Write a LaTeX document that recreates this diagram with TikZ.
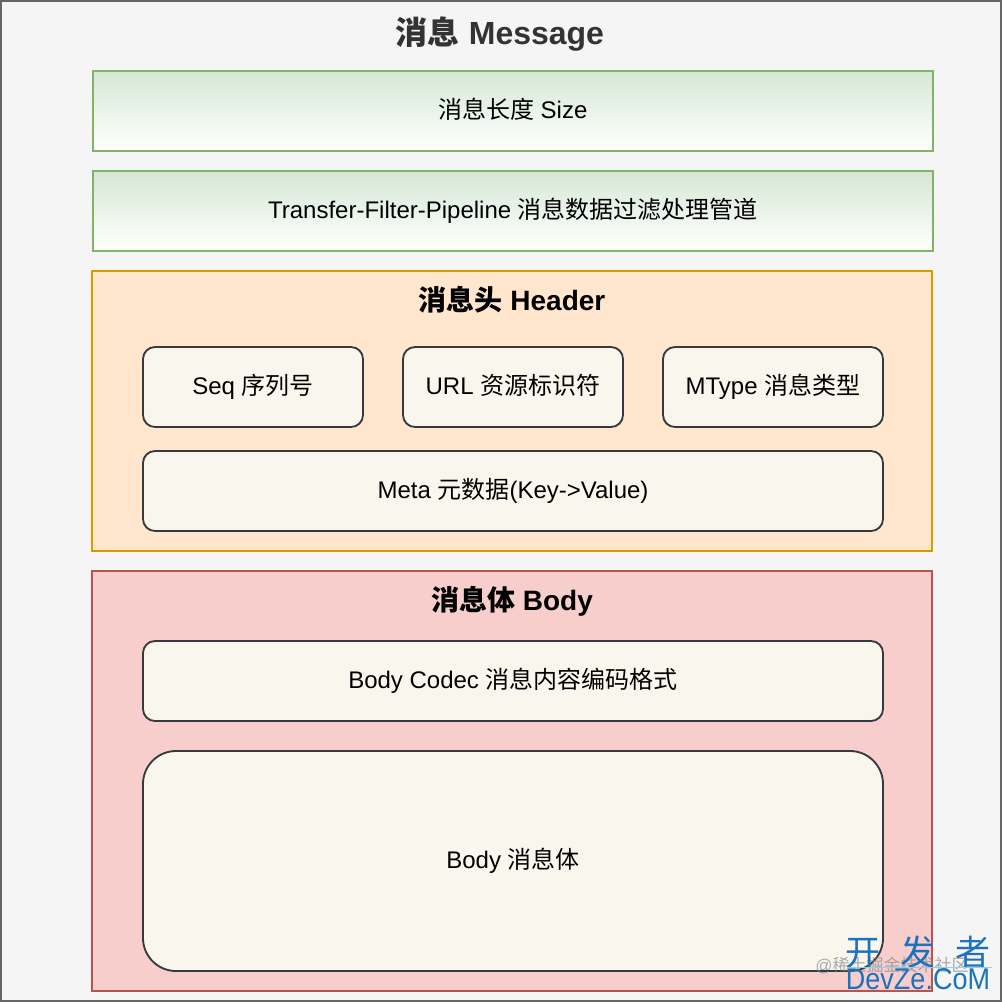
\documentclass[tikz,border=0pt]{standalone}
\usepackage{fontspec}
\setmainfont{Liberation Sans}
\newfontfamily\cjk{Noto Sans CJK SC}
\definecolor{outerfill}{HTML}{F5F5F5}
\definecolor{outerline}{HTML}{666666}
\definecolor{titlecol}{HTML}{333333}
\definecolor{greenfill}{HTML}{D5E8D4}
\definecolor{greenline}{HTML}{82B366}
\definecolor{orangefill}{HTML}{FFE6CC}
\definecolor{orangeline}{HTML}{D79B00}
\definecolor{redfill}{HTML}{F8CECC}
\definecolor{redline}{HTML}{B85450}
\definecolor{creamfill}{HTML}{F9F7ED}
\definecolor{creamline}{HTML}{36393D}
\definecolor{wmblue}{HTML}{1B72BE}
\definecolor{wmline}{HTML}{8CD0EE}
\definecolor{wmgray}{HTML}{8A8A8A}
\newcommand{\bx}[1]{\fontsize{#1}{#1}\selectfont}
\tikzset{
  x=1pt,y=-1pt,
  panel/.style={draw,line width=1.85pt,rectangle,inner sep=0pt,outer sep=0pt,text=black},
  greenbox/.style={panel,draw=greenline,top color=greenfill,bottom color=white,minimum width=840pt,minimum height=80pt,font=\bx{24},text height=18pt,text depth=4pt},
  headerbox/.style={panel,draw=orangeline,fill=orangefill,minimum width=840pt,minimum height=280pt},
  bodybox/.style={panel,draw=redline,fill=redfill,minimum width=840pt,minimum height=420pt},
  inner/.style={panel,draw=creamline,fill=creamfill,rounded corners=12pt,minimum height=80pt,font=\bx{24},text height=18pt,text depth=4pt},
  heading/.style={inner sep=0pt,text=black,font=\bx{28}\bfseries,text height=22pt,text depth=4pt},
}
\begin{document}
\begin{tikzpicture}
\useasboundingbox (0,0) rectangle (1002,1002);
\node[panel,line width=2pt,draw=outerline,fill=outerfill,minimum width=1000pt,minimum height=1000pt] (outer) at (501,501) {};
\node[inner sep=0pt,text=titlecol,font=\bx{32}\bfseries] (title) at (500,34) {{\cjk 消息} Message};
\node[greenbox] (size) at (512.7,111) {{\cjk 消息长度} Size};
\node[greenbox] (pipe) at (513,211) {Transfer-Filter-Pipeline {\cjk 消息数据过滤处理管道}};
\node[headerbox] (header) at (512,411) {};
\node[heading] (headertitle) at (512,301) {{\cjk 消息头} Header};
\node[inner,minimum width=220pt] (seq) at (253,387) {Seq {\cjk 序列号}};
\node[inner,minimum width=220pt] (url) at (513,387) {URL {\cjk 资源标识符}};
\node[inner,minimum width=220pt] (mtype) at (773,387) {MType {\cjk 消息类型}};
\node[inner,minimum width=740pt] (meta) at (513,491) {Meta {\cjk 元数据}(Key->Value)};
\node[bodybox] (body) at (512,781) {};
\node[heading] (bodytitle) at (512,601) {{\cjk 消息体} Body};
\node[inner,minimum width=740pt] (codec) at (513,681) {Body Codec {\cjk 消息内容编码格式}};
\node[inner,minimum width=740pt,minimum height=220pt,rounded corners=33pt] (msgbody) at (513,861) {Body {\cjk 消息体}};
% watermark
\node[inner sep=0pt,text=wmgray,opacity=.7,font=\bx{17}] (wmgrayt) at (892,965) {@{\cjk 稀土掘金技术社区}};
\node[inner sep=0pt,text=wmblue,font=\bx{35}] (wmcn) at (918,952) {{\cjk 开\hspace{20pt}发\hspace{20pt}者}};
\node[inner sep=0pt,text=wmblue,font=\bx{30},xscale=.9] (wmen) at (918,979.5) {DevZe.CoM};
\coordinate (wmA) at (847,967);
\coordinate (wmB) at (992,967);
\draw[wmline,line width=.8pt] (wmA) -- (wmB);
\end{tikzpicture}
\end{document}
